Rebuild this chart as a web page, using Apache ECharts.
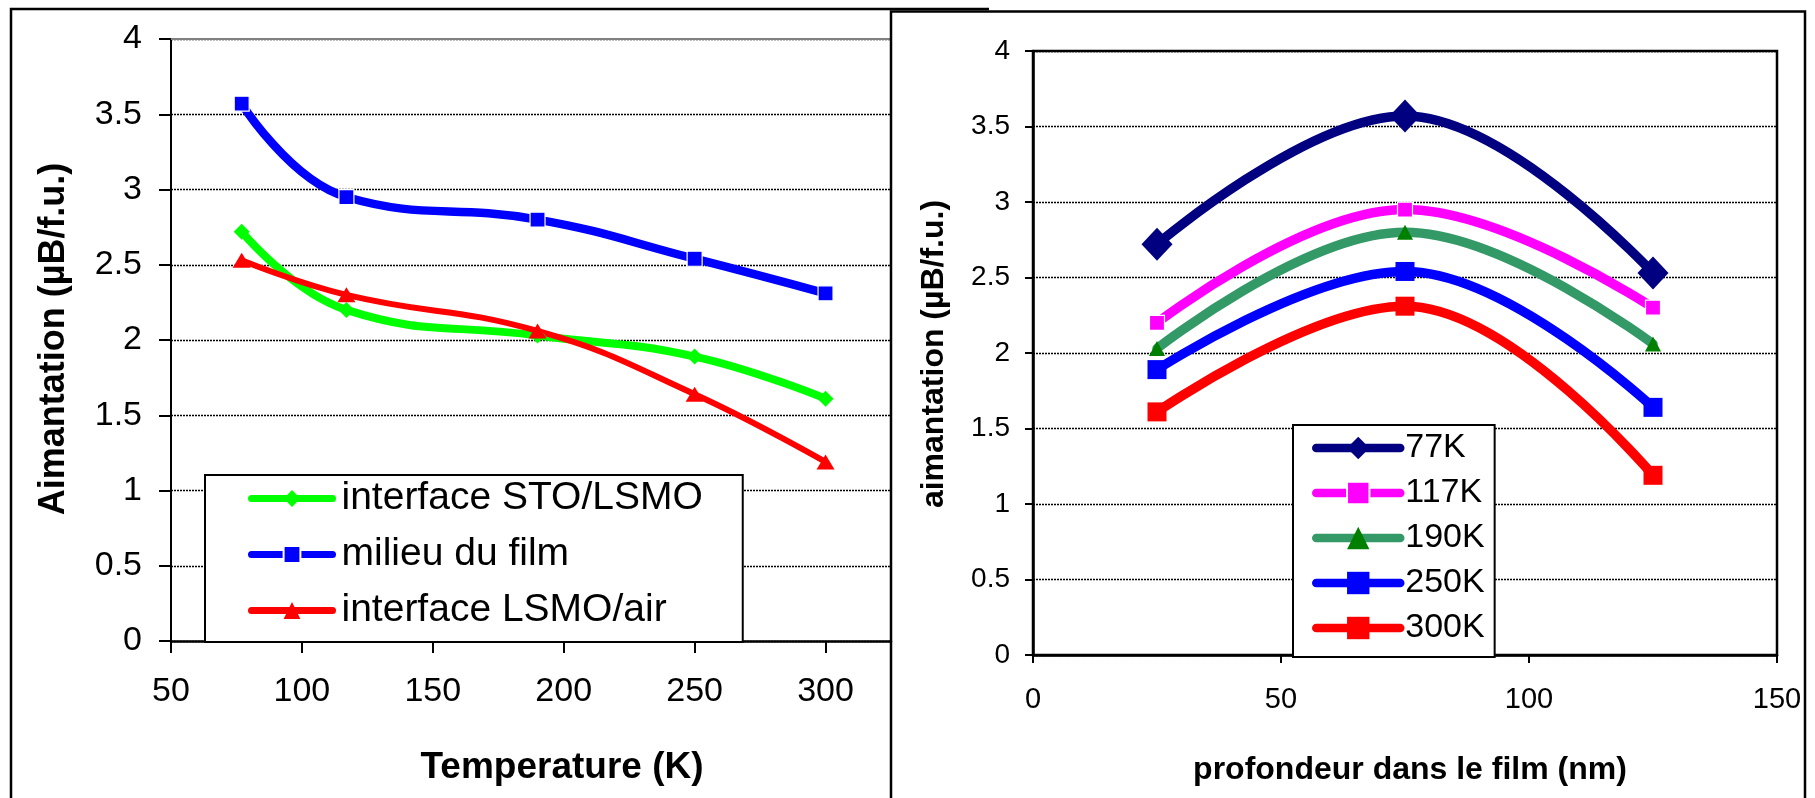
<!DOCTYPE html>
<html>
<head>
<meta charset="utf-8">
<script src="https://cdn.jsdelivr.net/npm/echarts@6/dist/echarts.min.js"></script>
<style>
  html, body { margin: 0; padding: 0; background: #ffffff; }
  #chart { width: 1815px; height: 798px; }
</style>
</head>
<body>
<div id="chart"></div>
<script>
// Magnetisation of the LSMO film (µB/f.u.) at three depths, measured at five temperatures
const temperatures = [77, 117, 190, 250, 300];            // K
const interfaceSTO = [2.72, 2.20, 2.03, 1.89, 1.61];      // interface STO/LSMO
const milieuFilm   = [3.57, 2.95, 2.80, 2.54, 2.31];      // milieu du film
const interfaceAir = [2.53, 2.30, 2.06, 1.64, 1.19];      // interface LSMO/air
const depthNames   = ['interface STO/LSMO', 'milieu du film', 'interface LSMO/air'];
const depths       = [25, 75, 125];                        // depth of each profile in the film (nm)

// axis tick values
const magTicks   = [0, 0.5, 1, 1.5, 2, 2.5, 3, 3.5, 4];
const tempTicks  = [50, 100, 150, 200, 250, 300];
const depthTicks = [0, 50, 100, 150];

const profiles = [interfaceSTO, milieuFilm, interfaceAir];
const tempNames = temperatures.map(t => t + 'K');

const FONT = '"Liberation Sans", Arial, Helvetica, sans-serif';
const magStep = magTicks[1] - magTicks[0];

// styling of the left (temperature) panel
const leftStyles = [
  { color: '#00ff00', width: 8, symbol: 'diamond', size: 16, marker: { color: '#00ff00' } },
  { color: '#0000ff', width: 8.5, symbol: 'rect', size: 15, marker: { color: '#0000ff', borderColor: '#ffffff', borderWidth: 1.2 } },
  { color: '#ff0000', width: 6, symbol: 'triangle', size: [18, 15], marker: { color: '#ff0000' } }
];
// styling of the right (depth) panel
const rightStyles = [
  { color: '#000080', symbol: 'diamond', size: [31, 33], marker: { color: '#000080' } },
  { color: '#ff00ff', symbol: 'rect', size: 15, marker: { color: '#ff00ff', borderColor: '#ffffff', borderWidth: 1.2 } },
  { color: '#339966', symbol: 'triangle', size: [16, 15], marker: { color: '#008000' } },
  { color: '#0000ff', symbol: 'rect', size: 19, marker: { color: '#0000ff' } },
  { color: '#ff0000', symbol: 'rect', size: 19, marker: { color: '#ff0000' } }
];

const leftSeries = depthNames.map((name, k) => {
  const st = leftStyles[k];
  const s = {
    type: 'line', name: name, xAxisIndex: 0, yAxisIndex: 0,
    data: temperatures.map((t, i) => [t, profiles[k][i]]),
    smooth: 0.45,
    symbol: st.symbol, symbolSize: st.size,
    lineStyle: { color: st.color, width: st.width, cap: 'round', join: 'round' },
    itemStyle: Object.assign({ opacity: 1 }, st.marker),
    emphasis: { disabled: true },
    z: 3
  };
  if (k === 0) {
    s.markLine = {
      silent: true, symbol: 'none', label: { show: false },
      lineStyle: { color: '#808080', width: 2, type: 'solid' },
      data: [{ yAxis: magTicks[magTicks.length - 1] }],
      z: 1
    };
  }
  return s;
});

const rightSeries = temperatures.map((t, i) => {
  const st = rightStyles[i];
  return {
    type: 'line', name: tempNames[i], xAxisIndex: 1, yAxisIndex: 1,
    data: depths.map((d, k) => [d, profiles[k][i]]),
    smooth: 0.4,
    symbol: st.symbol, symbolSize: st.size,
    lineStyle: { color: st.color, width: 9.5, cap: 'round', join: 'round' },
    itemStyle: Object.assign({ opacity: 1 }, st.marker),
    emphasis: { disabled: true },
    z: 3
  };
});

function valueAxis(gridIndex, min, max, step, o) {
  return {
    type: 'value', gridIndex: gridIndex, min: min, max: max, interval: step,
    axisLine: { show: true, onZero: false, lineStyle: { color: '#000', width: o.lineWidth } },
    axisTick: { show: true, inside: false, length: o.tick, lineStyle: { color: '#000', width: 2 } },
    axisLabel: {
      show: true, margin: o.margin, fontSize: o.fontSize, color: '#000', fontFamily: FONT,
      formatter: v => (o.keep(v) ? String(v) : '')
    },
    splitLine: o.grid
      ? { show: true, lineStyle: { color: '#000', width: 1.3, type: [2, 1] } }
      : { show: false }
  };
}

const option = {
  animation: false,
  backgroundColor: '#ffffff',
  grid: [
    { left: 171, top: 39, width: 720, height: 602 },
    { left: 1033, top: 51, width: 744, height: 604, show: true, borderColor: '#000', borderWidth: 2.5, backgroundColor: 'transparent' }
  ],
  xAxis: [
    valueAxis(0, tempTicks[0], 325, tempTicks[1] - tempTicks[0],
      { lineWidth: 2.5, tick: 12, margin: 34, fontSize: 34, grid: false, keep: v => tempTicks.includes(v) }),
    valueAxis(1, depthTicks[0], depthTicks[depthTicks.length - 1], depthTicks[1] - depthTicks[0],
      { lineWidth: 2.5, tick: 8, margin: 30, fontSize: 29, grid: false, keep: v => depthTicks.includes(v) })
  ],
  yAxis: [
    valueAxis(0, magTicks[0], magTicks[magTicks.length - 1], magStep,
      { lineWidth: 2, tick: 12, margin: 29, fontSize: 34, grid: true, keep: v => magTicks.includes(v) }),
    valueAxis(1, magTicks[0], magTicks[magTicks.length - 1], magStep,
      { lineWidth: 2.5, tick: 8, margin: 23, fontSize: 28, grid: true, keep: v => magTicks.includes(v) })
  ],
  legend: [
    {
      data: depthNames, orient: 'vertical', left: 205, top: 475,
      padding: [4, 40, 12, 43], itemGap: 17, itemWidth: 81, itemHeight: 21,
      backgroundColor: '#ffffff', borderColor: '#000', borderWidth: 2,
      lineStyle: { width: 7, cap: 'round' },
      textStyle: { fontSize: 39, color: '#000', fontFamily: FONT, padding: [0, 0, 0, 4] },
      selectedMode: false, z: 5
    },
    {
      data: tempNames, orient: 'vertical', left: 1293, top: 425,
      padding: [6, 10, 12, 19], itemGap: 11, itemWidth: 84, itemHeight: 28,
      backgroundColor: '#ffffff', borderColor: '#000', borderWidth: 2,
      lineStyle: { width: 8.5, cap: 'round' },
      textStyle: { fontSize: 34, color: '#000', fontFamily: FONT },
      selectedMode: false, z: 5
    }
  ],
  graphic: [
    // frame of the left panel (its right side lies under the right panel)
    { type: 'polyline', silent: true, z: 10,
      shape: { points: [[11, 820], [11, 9], [989, 9]] },
      style: { stroke: '#000', lineWidth: 2.5, fill: null } },
    // frame of the right panel
    { type: 'polyline', silent: true, z: 10,
      shape: { points: [[891, 820], [891, 11.5], [1805, 11.5], [1805, 820]] },
      style: { stroke: '#000', lineWidth: 2.5, fill: null } },
    // axis titles
    { type: 'text', silent: true, x: 54, y: 339, rotation: Math.PI / 2,
      style: { text: 'Aimantation (µB/f.u.)', font: 'bold 36px ' + FONT, fill: '#000', align: 'center', verticalAlign: 'middle' } },
    { type: 'text', silent: true, x: 562, y: 768,
      style: { text: 'Temperature (K)', font: 'bold 37px ' + FONT, fill: '#000', align: 'center', verticalAlign: 'middle' } },
    { type: 'text', silent: true, x: 934, y: 354, rotation: Math.PI / 2,
      style: { text: 'aimantation (µB/f.u.)', font: 'bold 32px ' + FONT, fill: '#000', align: 'center', verticalAlign: 'middle' } },
    { type: 'text', silent: true, x: 1410, y: 770,
      style: { text: 'profondeur dans le film (nm)', font: 'bold 32px ' + FONT, fill: '#000', align: 'center', verticalAlign: 'middle' } }
  ],
  series: leftSeries.concat(rightSeries)
};

const chart = echarts.init(document.getElementById('chart'), null, { renderer: 'canvas' });
chart.setOption(option);
</script>
</body>
</html>
